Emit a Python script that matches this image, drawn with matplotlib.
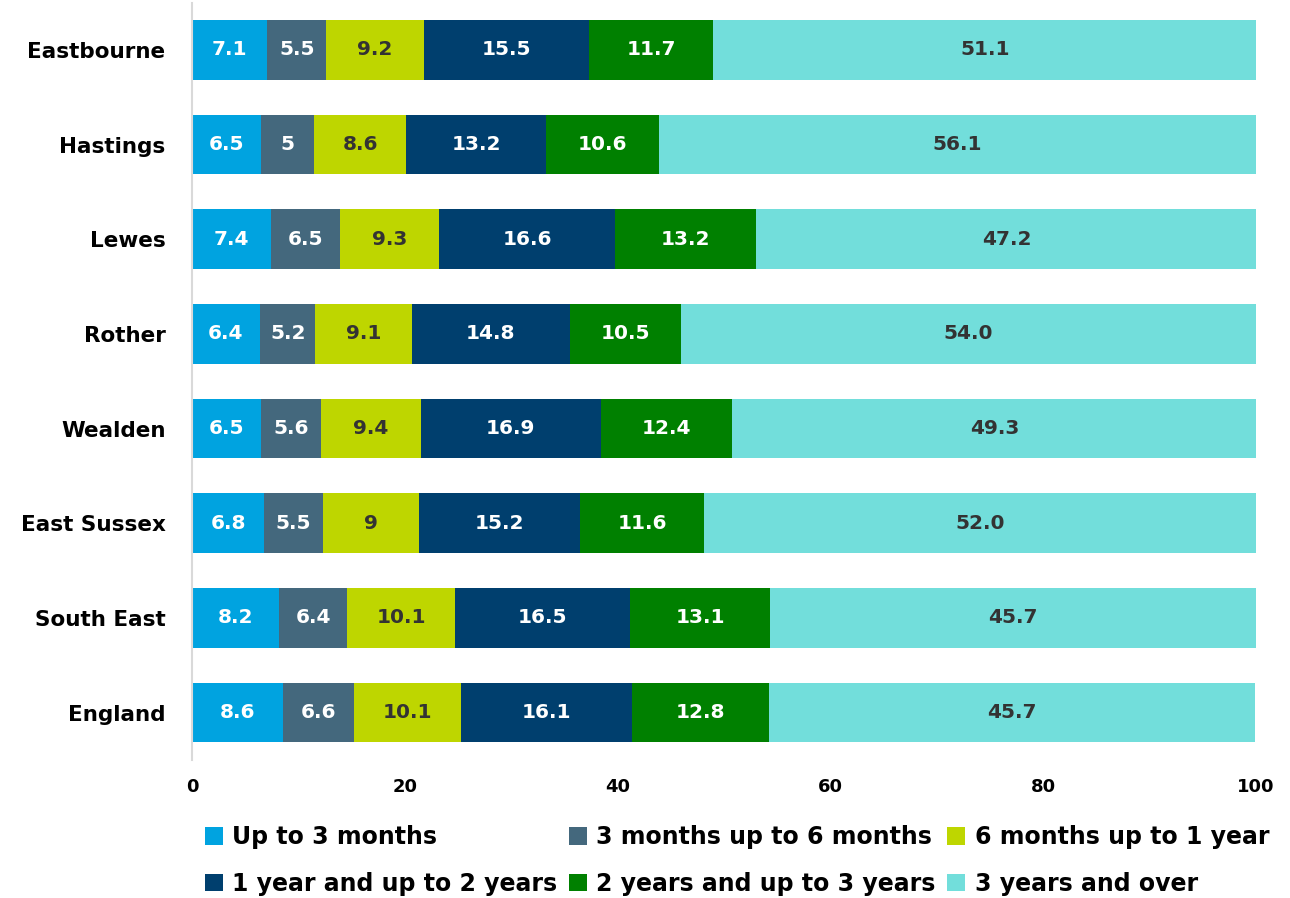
import matplotlib
matplotlib.use("Agg")
import matplotlib.pyplot as plt
import numpy as np

plt.rcParams['font.family'] = ['DejaVu Sans']
plt.rcParams['font.weight'] = 'bold'

categories = ["Eastbourne", "Hastings", "Lewes", "Rother", "Wealden",
              "East Sussex", "South East", "England"]
series_names = ["Up to 3 months", "3 months up to 6 months", "6 months up to 1 year",
                "1 year and up to 2 years", "2 years and up to 3 years", "3 years and over"]
up_to_3m = [7.1, 6.5, 7.4, 6.4, 6.5, 6.8, 8.2, 8.6]
m3_to_6m = [5.5, 5, 6.5, 5.2, 5.6, 5.5, 6.4, 6.6]
m6_to_1y = [9.2, 8.6, 9.3, 9.1, 9.4, 9, 10.1, 10.1]
y1_to_2y = [15.5, 13.2, 16.6, 14.8, 16.9, 15.2, 16.5, 16.1]
y2_to_3y = [11.7, 10.6, 13.2, 10.5, 12.4, 11.6, 13.1, 12.8]
y3_over = [51.1, 56.1, 47.2, 54.0, 49.3, 52.0, 45.7, 45.7]
x_ticks = [0, 20, 40, 60, 80, 100]

series = [up_to_3m, m3_to_6m, m6_to_1y, y1_to_2y, y2_to_3y, y3_over]
colors = ["#00A3E0", "#44687D", "#BED600", "#003F6E", "#008000", "#72DEDB"]
text_colors = ["white", "white", "#333333", "white", "white", "#333333"]

fig = plt.figure(figsize=(12.9, 8.98), dpi=100)
ax = fig.add_axes([0.1488, 0.1537, 0.8248, 0.8434])

y = np.arange(len(categories))
left = np.zeros(len(categories))
handles = []
for vals, name, c, tc in zip(series, series_names, colors, text_colors):
    vals_arr = np.array(vals, dtype=float)
    bars = ax.barh(y, vals_arr, left=left, height=0.63, color=c, label=name)
    handles.append(bars)
    for yi, l, v in zip(y, left, vals):
        ax.text(l + v / 2, yi, str(v), ha='center', va='center', color=tc,
                fontsize=14.5, fontweight='bold')
    left += vals_arr

ax.set_ylim(len(categories) - 0.5, -0.5)
ax.set_xlim(0, 100)
ax.set_yticks(y)
ax.set_yticklabels(categories, fontsize=15.5, fontweight='bold')
ax.set_xticks(x_ticks)
ax.set_xticklabels([str(t) for t in x_ticks], fontsize=13, fontweight='bold')
ax.tick_params(axis='both', length=0)
ax.tick_params(axis='y', pad=19)
ax.tick_params(axis='x', pad=13)
for s in ['top', 'right', 'bottom']:
    ax.spines[s].set_visible(False)
ax.spines['left'].set_color('#D9D9D9')
ax.spines['left'].set_linewidth(1.5)

order = [0, 3, 1, 4, 2, 5]
leg = fig.legend([handles[i] for i in order], [series_names[i] for i in order],
                 ncol=3, loc='upper left', bbox_to_anchor=(0.1425, 0.1046),
                 frameon=False, handlelength=0.75, handleheight=0.75,
                 handletextpad=0.4, columnspacing=0.5, labelspacing=0.95,
                 prop={'weight': 'bold', 'size': 17})

fig.savefig("out.png", dpi=100)
